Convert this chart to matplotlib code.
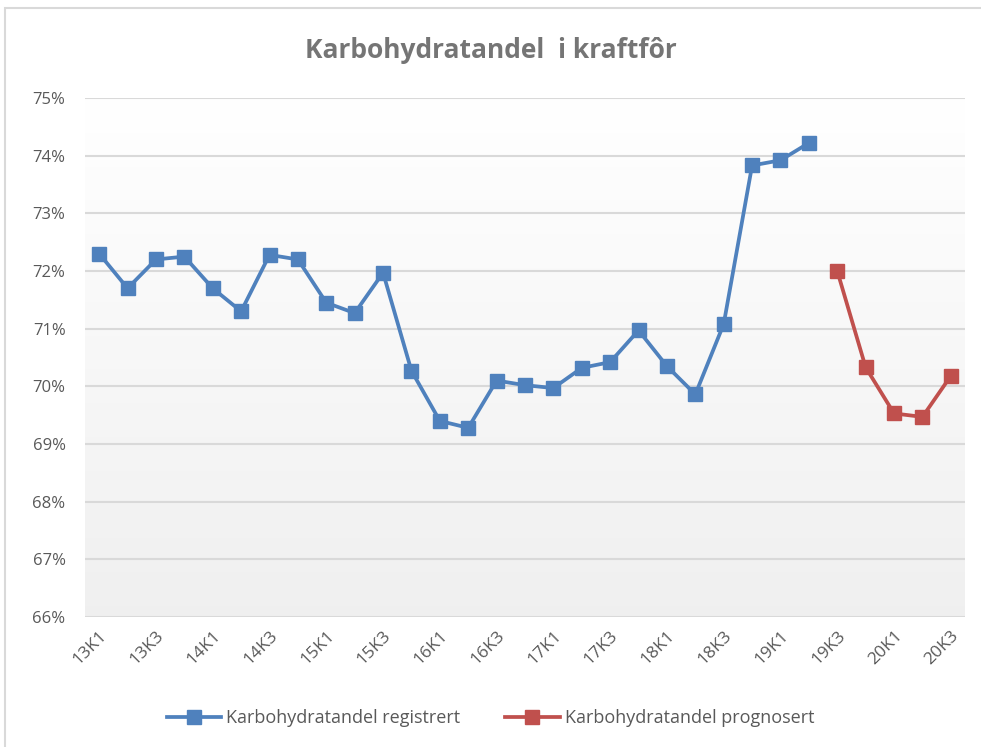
import numpy as np
import matplotlib
matplotlib.use("Agg")
import matplotlib.pyplot as plt
from matplotlib.patches import Rectangle

# kvartal 13K1 .. 20K3
categories = [f"{y}K{q}" for y in range(13, 21) for q in range(1, 5)][:31]

registrert = [72.30, 71.70, 72.20, 72.25, 71.70, 71.30, 72.28, 72.20,
              71.45, 71.27, 71.97, 70.27, 69.40, 69.28, 70.10, 70.02,
              69.97, 70.32, 70.42, 70.97, 70.35, 69.86, 71.08, 73.83,
              73.92, 74.22]
prognosert = [72.00, 70.33, 69.53, 69.47, 70.18]

x_reg = np.arange(len(registrert))
x_prog = np.arange(len(registrert), len(registrert) + len(prognosert))

plt.rcParams['font.family'] = ['Open Sans', 'DejaVu Sans']

fig = plt.figure(figsize=(9.81, 7.47), dpi=100)
# frame of the chart object
fig.patches.append(Rectangle((5/981, -0.1), 1.1, 1 - 8/747 + 0.1, transform=fig.transFigure,
                             fill=False, edgecolor='#d9d9d9', linewidth=1.5))

ax = fig.add_axes([85/981, 1 - 617/747, 880/981, (617 - 98)/747])

# gradient background
grad = np.linspace(1.0, 0.94, 256).reshape(-1, 1)
ax.imshow(np.dstack([grad, grad, grad]), extent=[0, 1, 0, 1], transform=ax.transAxes,
          aspect='auto', zorder=0, interpolation='bicubic')

ax.plot(x_reg, registrert, color='#4f81bd', lw=2.7, marker='s', ms=9.5,
        label='Karbohydratandel registrert', zorder=3)
ax.plot(x_prog, prognosert, color='#c0504d', lw=2.7, marker='s', ms=9.5,
        label='Karbohydratandel prognosert', zorder=3)

ax.set_xlim(-0.5, len(categories) - 0.5)
ax.set_ylim(66, 75)
ax.set_yticks(range(66, 76))
ax.set_yticklabels([f"{v}%" for v in range(66, 76)])
ax.set_xticks(range(0, len(categories), 2))
ax.set_xticklabels(categories[::2], rotation=45, ha='right', rotation_mode='anchor')

ax.grid(axis='y', color='#d9d9d9', lw=1.5, zorder=1)
ax.set_axisbelow(True)
for s in ax.spines.values():
    s.set_visible(False)
ax.tick_params(axis='both', length=0, labelcolor='#595959')
ax.tick_params(axis='y', pad=14, labelsize=12)
ax.tick_params(axis='x', pad=8, labelsize=12.5)

fig.text(0.5, 1 - 50/747, 'Karbohydratandel  i kraftfôr', ha='center', va='center',
         fontsize=19, fontweight='bold', color='#757575')

fig.legend(loc='center', bbox_to_anchor=(0.5, 1 - 718/747), ncol=2, frameon=False,
           fontsize=13, labelcolor='#595959', handlelength=3, columnspacing=2.5,
           handletextpad=0.3)

fig.savefig('out.png', dpi=100)
